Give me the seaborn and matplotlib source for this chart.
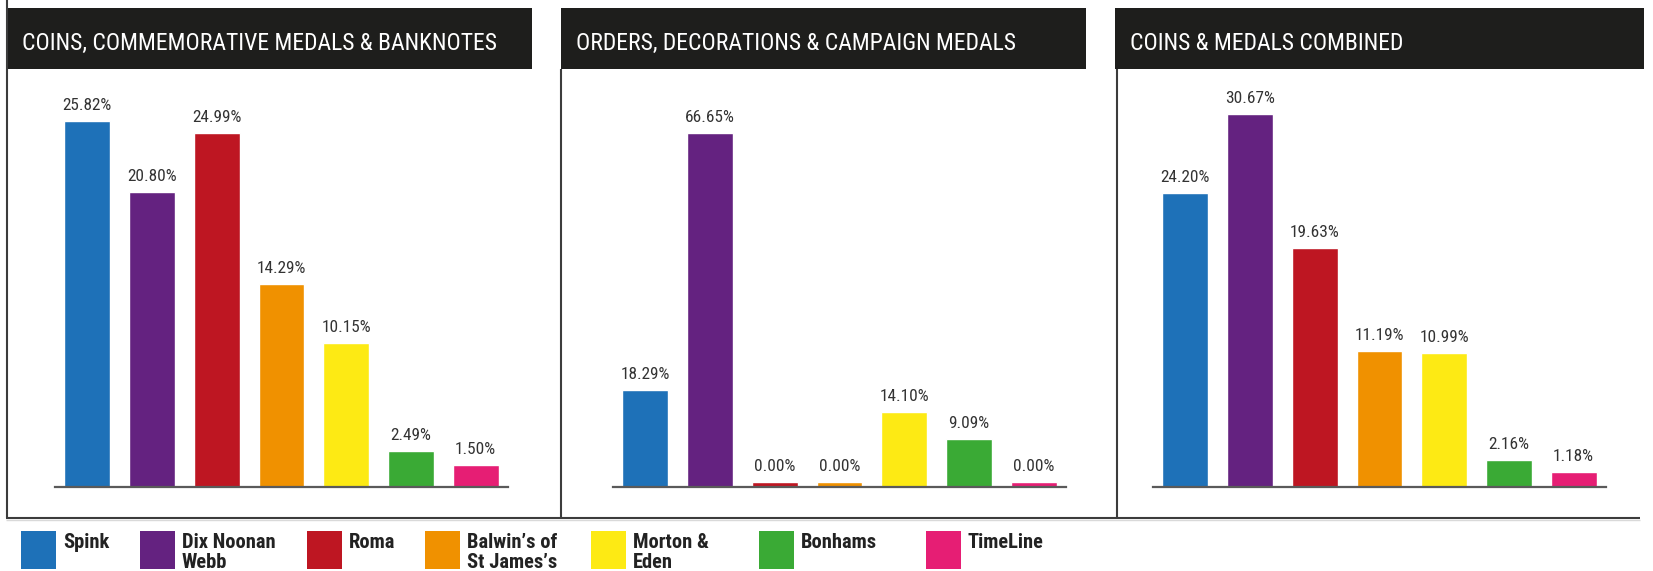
import numpy as np
import pandas as pd
import matplotlib
matplotlib.use("Agg")
import matplotlib.pyplot as plt
import seaborn as sns
from matplotlib import font_manager
from matplotlib.patches import Rectangle

# ---------------- data ----------------
companies = ["Spink", "Dix Noonan Webb", "Roma", "Balwin’s of St James’s",
             "Morton & Eden", "Bonhams", "TimeLine"]
legend_labels = ["Spink", "Dix Noonan\nWebb", "Roma", "Balwin’s of\nSt James’s",
                 "Morton &\nEden", "Bonhams", "TimeLine"]
colors = ["#1e71b8", "#642280", "#be1622", "#f09100", "#fdea14", "#3aaa35", "#e61e74"]

panel_titles = ["COINS, COMMEMORATIVE MEDALS & BANKNOTES",
                "ORDERS, DECORATIONS & CAMPAIGN MEDALS",
                "COINS & MEDALS COMBINED"]
coins_banknotes = [25.82, 20.80, 24.99, 14.29, 10.15, 2.49, 1.50]
orders_medals = [18.29, 66.65, 0.00, 0.00, 14.10, 9.09, 0.00]
combined = [24.20, 30.67, 19.63, 11.19, 10.99, 2.16, 1.18]
panel_values = [coins_banknotes, orders_medals, combined]

# ---------------- style ----------------
sns.set_theme(style="white")
names = {f.name for f in font_manager.fontManager.ttflist}
if "Roboto Condensed" in names:
    FONT = "Roboto Condensed"
elif "Liberation Sans Narrow" in names:
    FONT = "Liberation Sans Narrow"
else:
    FONT = "Roboto"
plt.rcParams["font.family"] = [FONT, "DejaVu Sans"]

W, H = 1653, 571
DPI = 100
fig = plt.figure(figsize=(W / DPI, H / DPI), dpi=DPI, facecolor="white")
fig.canvas.draw()
renderer = fig.canvas.get_renderer()


def measure(s, size, weight="normal"):
    t = fig.text(0, 0, s, fontsize=size, fontweight=weight)
    w = t.get_window_extent(renderer).width
    t.remove()
    return w


# fit font sizes to reference text widths (pixels)
title_size = 20 * 474 / measure(panel_titles[0], 20)
label_size = 10 * 49 / measure("66.65%", 10)
legend_size = 14 * 94 / measure("Dix Noonan", 14, "bold")

# background layer in pixel coordinates (y downwards)
bg = fig.add_axes([0, 0, 1, 1], zorder=0)
bg.set_xlim(0, W)
bg.set_ylim(H, 0)
bg.axis("off")

header_boxes = [(7, 532), (561, 1086), (1115, 1644)]
HEADER_TOP, HEADER_BOT = 8, 69
for (x0, x1), title in zip(header_boxes, panel_titles):
    bg.add_patch(Rectangle((x0, HEADER_TOP), x1 - x0, HEADER_BOT - HEADER_TOP,
                           facecolor="#1e1e1c", edgecolor="none"))
    bg.text(x0 + 15, 50, title, color="white", fontsize=title_size,
            va="baseline", ha="left")

# frame lines
LINE_C = "#3c3c3c"
bg.plot([6.5, 6.5], [0, 518], color=LINE_C, lw=1.5, solid_capstyle="butt")
bg.plot([561, 561], [HEADER_BOT, 518], color=LINE_C, lw=1.5, solid_capstyle="butt")
bg.plot([1117, 1117], [HEADER_BOT, 518], color=LINE_C, lw=1.5, solid_capstyle="butt")
bg.plot([6, 1640], [517.5, 517.5], color=LINE_C, lw=1.5, solid_capstyle="butt")
bg.plot([6, 1640], [519.5, 519.5], color="#d9d9d9", lw=1.0, solid_capstyle="butt")

# legend
legend_box_x = [21, 140, 307, 425, 591, 759, 926]
for bx, lab, c in zip(legend_box_x, legend_labels, colors):
    bg.add_patch(Rectangle((bx, 531), 35, 38, facecolor=c, edgecolor="none"))
    for i, line in enumerate(lab.split("\n")):
        bg.text(bx + 42, 548 + 20 * i, line, fontsize=legend_size,
                fontweight="bold", color="#222222", va="baseline", ha="left")

# ---------------- panels ----------------
axes_x = [(55, 508), (613, 1066), (1153, 1606)]
AX_TOP, AX_BOT = 69, 486.7
ymax = [29.5, 78.8, 34.4]
min_visible = 0.8

for (x0, x1), vals, top in zip(axes_x, panel_values, ymax):
    ax = fig.add_axes([x0 / W, 1 - AX_BOT / H, (x1 - x0) / W, (AX_BOT - AX_TOP) / H],
                      zorder=2)
    ax.patch.set_alpha(0)
    df = pd.DataFrame({"company": companies, "value": vals})
    df["shown"] = np.maximum(df["value"], min_visible)
    sns.barplot(data=df, x="company", y="shown", hue="company", palette=colors,
                order=companies, hue_order=companies, width=0.71, saturation=1,
                legend=False, ax=ax)
    ax.set_xlim(-0.5, 6.5)
    ax.set_ylim(0, top)
    ax.set_xticks([])
    ax.set_yticks([])
    ax.set_xlabel("")
    ax.set_ylabel("")
    for s in ["left", "right", "top"]:
        ax.spines[s].set_visible(False)
    ax.spines["bottom"].set_color("#5a5a5a")
    ax.spines["bottom"].set_linewidth(1.6)
    patches = sorted(ax.patches, key=lambda p: p.get_x())
    for p, v in zip(patches, vals):
        ax.annotate(f"{v:.2f}%", xy=(p.get_x() + p.get_width() / 2, p.get_height()),
                    xytext=(0, 11 * 72 / DPI), textcoords="offset points",
                    ha="center", va="baseline", fontsize=label_size, color="#333333")

fig.savefig("out.png", dpi=DPI, facecolor="white")
